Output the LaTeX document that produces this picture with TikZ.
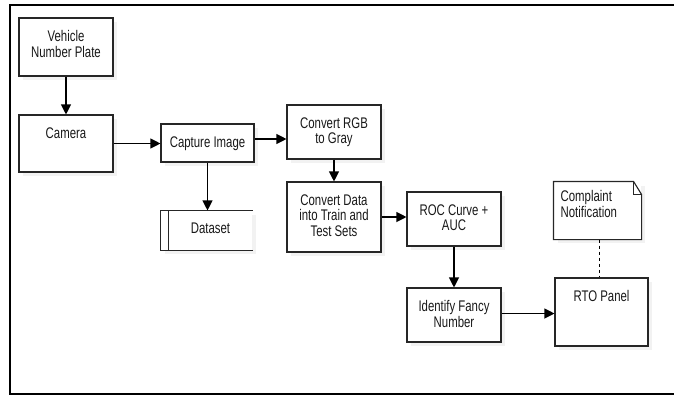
\documentclass[tikz,border=0pt]{standalone}
\usepackage{fontspec}
\setmainfont{Liberation Sans}[FakeStretch=0.74]
\usetikzlibrary{arrows.meta,positioning,shadows}

\tikzset{
  box/.style={draw=black!85, line width=1.1pt, fill=white, inner sep=0pt,
    drop shadow={shadow xshift=4pt, shadow yshift=-4pt, opacity=0.1}},
  txt/.style={anchor=north, inner sep=0pt, align=center, yshift=-#1,
    font=\fontsize{15.4}{15.5}\selectfont, text=black!90},
  txt/.default=12.7pt,
  arr/.style={line width=1.1pt, -{Triangle[length=10pt,width=10pt]}},
}

\begin{document}
\begin{tikzpicture}[x=1pt,y=-1pt]

    \useasboundingbox (0,0) rectangle (674,397);
    \clip (0,0) rectangle (674,397);

    % 1. Outer frame (open on the right)
    \draw[line width=2pt] (690,5) -- (10,5) -- (10,393.5) -- (690,393.5);

    % 2. Process boxes
    \node[box, minimum width=94, minimum height=58, label={[txt]north:Vehicle\\Number Plate}] (plate) at (66,47) {};
    \node[box, minimum width=94, minimum height=57, label={[txt]north:Camera}] (camera) at (66,143.5) {};
    \node[box, minimum width=93, minimum height=38, label={[txt]north:Capture Image}] (capture) at (207.5,143) {};
    \node[box, minimum width=94, minimum height=54, label={[txt]north:Convert RGB\\to Gray}] (gray) at (334,132) {};
    \node[box, minimum width=94, minimum height=70, label={[txt]north:Convert Data\\into Train and\\Test Sets}] (split) at (334,217) {};
    \node[box, minimum width=94, minimum height=54, label={[txt]north:ROC Curve +\\AUC}] (roc) at (454,219) {};
    \node[box, minimum width=94, minimum height=54, label={[txt]north:Identify Fancy\\Number}] (fancy) at (454,315) {};
    \node[box, minimum width=93, minimum height=68, label={[txt]north:RTO Panel}] (rto) at (601.5,312) {};

    % 3. Data store
    \node[box, draw=none, minimum width=91, minimum height=39,
          label={[txt=12pt, xshift=4pt]north:Dataset}] (ds) at (206.5,230.5) {};
    \draw[black!85, line width=1.1pt] (ds.north east) -- (ds.north west) -- (ds.south west) -- (ds.south east);
    \draw[black!85, line width=1.1pt] ([xshift=8pt]ds.north west) -- ([xshift=8pt]ds.south west);

    % 4. Note with folded corner
    \node[box, draw=none, minimum width=87, minimum height=57,
          label={[txt=8.7pt, anchor=north west, align=left, xshift=7pt]north west:Complaint\\Notification}] (note) at (597.5,210.5) {};
    \draw[black!85, line width=1.1pt] (note.north west) -- ([xshift=-8pt]note.north east)
        -- ([yshift=-13pt]note.north east) -- (note.south east) -- (note.south west) -- cycle;
    \draw[black!85, line width=1pt] ([xshift=-8pt]note.north east) -- ([xshift=-8pt,yshift=-13pt]note.north east)
        -- ([yshift=-13pt]note.north east);

    % 5. Connectors
    \draw[arr] (plate) -- (camera);
    \draw[arr] (camera.east) -- (camera.east -| capture.west);
    \draw[arr] ([yshift=4pt]capture.east) -- ([yshift=4pt]capture.east -| gray.west);
    \draw[arr] (capture.south) -- (capture.south |- ds.north);
    \draw[arr] (gray) -- (split);
    \draw[arr] (split.east) -- (split.east -| roc.west);
    \draw[arr] (roc) -- (fancy);
    \draw[arr] ([yshift=1.5pt]fancy.east) -- ([yshift=1.5pt]fancy.east -| rto.west);
    \draw[line width=0.9pt, dash pattern=on 3pt off 3pt] ([xshift=2pt]note.south) -- ([xshift=2pt]note.south |- rto.north);

\end{tikzpicture}
\end{document}
